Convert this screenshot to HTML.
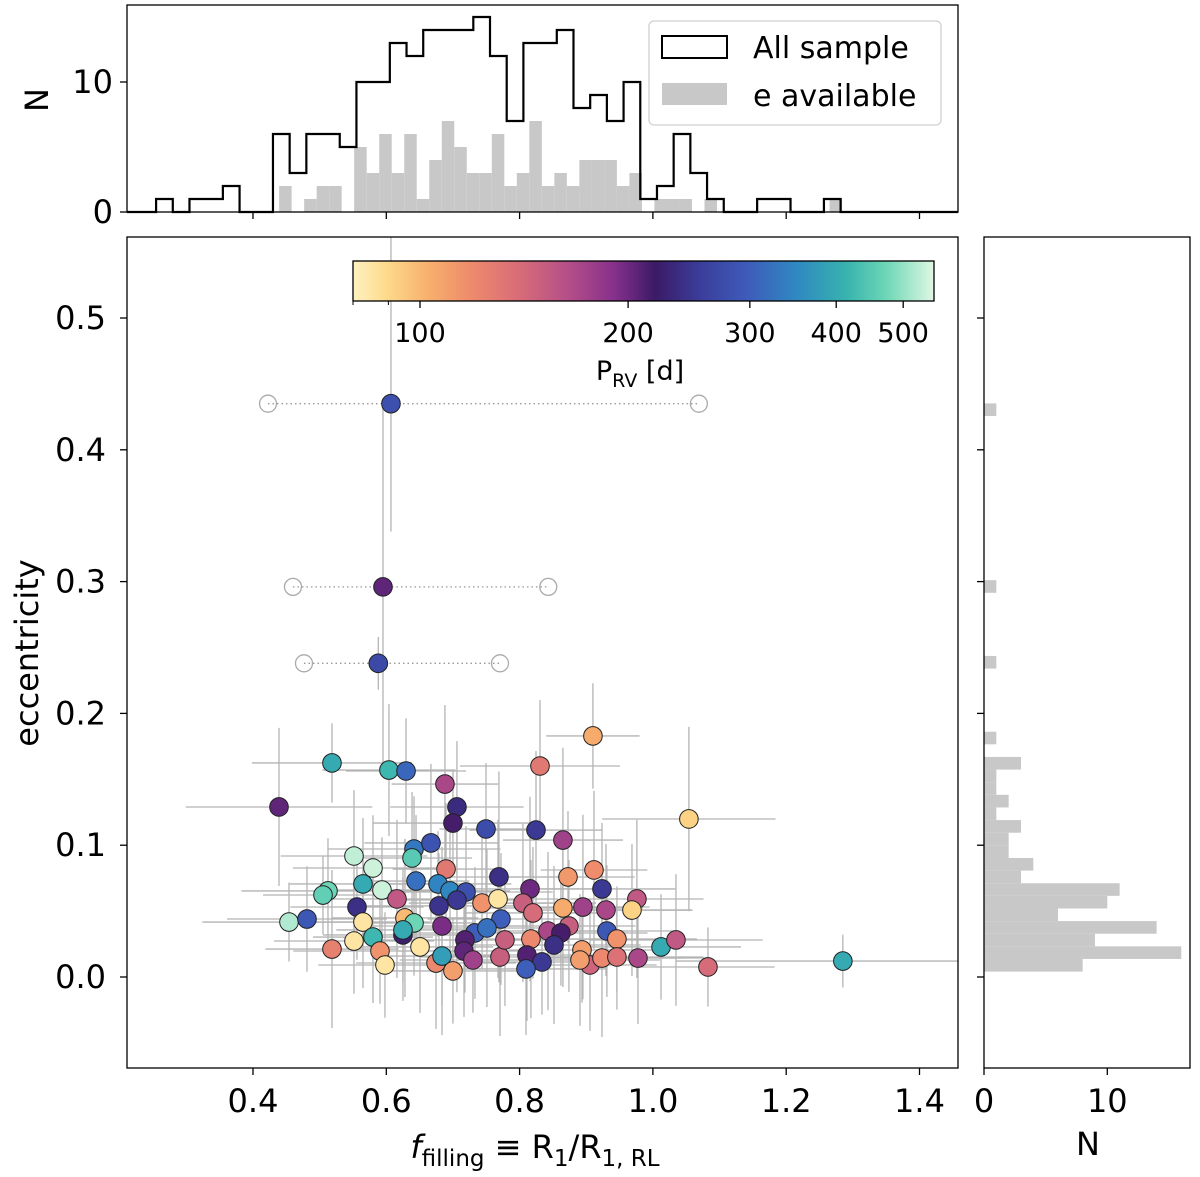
<!DOCTYPE html>
<html><head><meta charset="utf-8">
<style>
html,body{margin:0;padding:0;background:#fff;}
svg text{font-family:"DejaVu Sans","Liberation Sans",sans-serif;fill:#000;}
</style></head>
<body>
<svg id="fig" width="1200" height="1172" viewBox="0 0 1200 1172" xmlns="http://www.w3.org/2000/svg">
<defs>
<linearGradient id="cmapgrad" x1="0" x2="1" y1="0" y2="0">
<stop offset="0" stop-color="#fff2c0"/>
<stop offset="0.06" stop-color="#fdd98a"/>
<stop offset="0.13" stop-color="#f7b06d"/>
<stop offset="0.2" stop-color="#ee8c6c"/>
<stop offset="0.28" stop-color="#da6e77"/>
<stop offset="0.37" stop-color="#b44f88"/>
<stop offset="0.45" stop-color="#86308c"/>
<stop offset="0.52" stop-color="#3b1a66"/>
<stop offset="0.6" stop-color="#3b3e9c"/>
<stop offset="0.68" stop-color="#3e5cba"/>
<stop offset="0.76" stop-color="#2f87c2"/>
<stop offset="0.85" stop-color="#38b3ae"/>
<stop offset="0.92" stop-color="#6fd8b6"/>
<stop offset="1" stop-color="#e0f7e4"/>
</linearGradient>
<clipPath id="mainclip"><rect x="127" y="237" width="831" height="831"/></clipPath>
</defs>
<g id="layer"></g>
</svg>
<script>
// ---- data ----
const topAllStart = 0.2546, topAllWidth = 0.02505;
const topAllCounts = [1,0,1,1,2,0,0,6,3,6,6,5,10,10,13,12,14,14,14,15,12,7,13,13,14,8,9,7,10,1,2,6,3,1,0,0,1,1,0,0,1];
const topEStart = 0.4392, topEWidth = 0.01877;
const topECounts = [2,0,1,2,2,0,5,3,6,3,6,1,4,7,5,3,3,6,2,3,7,2,3,2,4,4,4,2,3,0,1,1,1,0,1,0,0,0,0,0,0,0,0,0,1];
const rightStart = 0.0041, rightWidth = 0.00958;
const rightCounts = [8,16,9,14,6,10,11,3,4,2,2,3,1,2,1,1,3,0,1,0,0,0,0,0,1,0,0,0,0,0,1,0,0,0,0,0,0,0,0,0,0,0,0,0,1];
const fill = [0.5185,0.604,0.6296,0.688,0.706,0.700,0.7496,0.439,0.5515,0.6416,0.6386,0.667,0.580,0.6896,0.769,0.5125,0.505,0.565,0.5935,0.616,0.6446,0.6776,0.6956,0.7196,0.706,0.679,0.7436,0.7676,0.556,0.454,0.481,0.565,0.628,0.6416,0.625,0.625,0.6836,0.772,0.5515,0.580,0.5185,0.5905,0.6506,0.598,0.6746,0.6836,0.700,0.733,0.751,0.718,0.7166,0.730,0.7706,0.778,0.910,0.8306,1.054,0.8246,0.865,0.8726,0.9116,0.8156,0.9236,0.976,0.9686,0.865,0.895,0.9296,0.805,0.820,0.8426,0.874,0.862,0.817,0.931,0.946,0.8516,0.811,0.8336,0.8096,0.8936,0.9056,0.9236,0.946,0.9776,1.0122,1.0346,1.0826,0.8906,1.285];
const ecc = [0.1624,0.157,0.1563,0.1464,0.129,0.1168,0.1123,0.129,0.0918,0.0971,0.0903,0.1017,0.0827,0.0819,0.0759,0.0653,0.0622,0.0706,0.066,0.0592,0.0728,0.0706,0.0653,0.0645,0.0584,0.0539,0.0561,0.0592,0.0531,0.0417,0.044,0.0417,0.0448,0.041,0.0319,0.0357,0.0387,0.044,0.0273,0.0303,0.0212,0.0197,0.0228,0.0091,0.0106,0.0159,0.0046,0.0334,0.0372,0.0281,0.0197,0.0129,0.0152,0.0281,0.1829,0.1601,0.1199,0.1115,0.1039,0.0759,0.0812,0.0668,0.0668,0.0592,0.0508,0.0524,0.0531,0.0508,0.0561,0.0486,0.0349,0.0387,0.0334,0.0288,0.0349,0.0288,0.0243,0.0167,0.0114,0.0061,0.0205,0.0091,0.0144,0.0152,0.0144,0.0228,0.0281,0.0076,0.0129,0.0121];
const period = [400,420,310,170,235,215,275,205,530,330,450,285,540,130,240,470,460,400,540,155,320,345,350,280,250,245,115,85,240,520,290,85,100,470,225,400,195,300,85,420,125,115,85,85,120,380,110,300,320,210,205,175,150,150,105,130,92,250,175,112,118,200,250,155,92,105,175,170,150,140,170,150,215,120,290,115,240,210,250,300,110,145,120,135,170,400,155,140,110,400];
const xerr = [0.12,0.1,0.09,0.08,0.1,0.12,0.07,0.14,0.11,0.13,0.09,0.1,0.12,0.08,0.1,0.13,0.09,0.11,0.1,0.12,0.08,0.11,0.09,0.13,0.1,0.12,0.11,0.09,0.1,0.13,0.12,0.1,0.11,0.09,0.12,0.1,0.13,0.11,0.12,0.09,0.1,0.13,0.11,0.1,0.12,0.09,0.11,0.1,0.12,0.13,0.1,0.11,0.12,0.09,0.07,0.12,0.13,0.1,0.09,0.1,0.08,0.12,0.11,0.1,0.09,0.12,0.1,0.13,0.11,0.1,0.12,0.1,0.13,0.11,0.1,0.12,0.13,0.11,0.1,0.12,0.11,0.1,0.12,0.13,0.1,0.12,0.13,0.1,0.12,0.25];
const yerr = [0.03,0.05,0.04,0.06,0.05,0.04,0.05,0.06,0.05,0.04,0.05,0.06,0.04,0.05,0.08,0.04,0.03,0.05,0.04,0.06,0.05,0.04,0.06,0.05,0.07,0.04,0.05,0.06,0.04,0.03,0.04,0.05,0.06,0.04,0.05,0.04,0.06,0.05,0.04,0.05,0.06,0.04,0.05,0.04,0.05,0.06,0.04,0.05,0.06,0.04,0.05,0.04,0.06,0.05,0.04,0.05,0.07,0.06,0.07,0.05,0.06,0.07,0.05,0.06,0.05,0.06,0.07,0.05,0.06,0.05,0.06,0.05,0.04,0.06,0.05,0.04,0.06,0.05,0.04,0.05,0.04,0.05,0.06,0.04,0.05,0.04,0.05,0.03,0.05,0.02];
const specFill = [0.607,0.595,0.588];
const specEcc = [0.435,0.296,0.238];
const specPeriod = [280,205,270];
const specLo = [0.4225,0.460,0.4765];
const specHi = [1.069,0.843,0.7706];
const specErrTop = [0.6,0.435,0.258];
const specErrBot = [0.338,0.16,0.218];
const mainXTicks = [0.4,0.6,0.8,1.0,1.2,1.4];
const mainXTickLabels = ["0.4","0.6","0.8","1.0","1.2","1.4"];
const mainYTicks = [0.0,0.1,0.2,0.3,0.4,0.5];
const mainYTickLabels = ["0.0","0.1","0.2","0.3","0.4","0.5"];
const cbTicks = [100,200,300,400,500];
const cbMinor = [80,90];
// ---- scales ----
const X = v => 253 + (v-0.4)*666.5;
const Y = v => 977 - v*1318;
const YT = n => 212 - n*13;
const XR = n => 984 + n*12.33;
const PMIN = 80, PMAX = 554;
const CB = p => 353 + (Math.log(p/PMIN)/Math.log(PMAX/PMIN))*581;
const stops = [[0,"#fff2c0"],[0.06,"#fdd98a"],[0.13,"#f7b06d"],[0.2,"#ee8c6c"],[0.28,"#da6e77"],[0.37,"#b44f88"],[0.45,"#86308c"],[0.52,"#3b1a66"],[0.6,"#3b3e9c"],[0.68,"#3e5cba"],[0.76,"#2f87c2"],[0.85,"#38b3ae"],[0.92,"#6fd8b6"],[1,"#e0f7e4"]];
function hex(c){return [parseInt(c.slice(1,3),16),parseInt(c.slice(3,5),16),parseInt(c.slice(5,7),16)];}
function cmap(p){
  let t=Math.log(p/PMIN)/Math.log(PMAX/PMIN); t=Math.max(0,Math.min(1,t));
  for(let i=0;i<stops.length-1;i++){
    if(t<=stops[i+1][0]){const a=hex(stops[i][1]),b=hex(stops[i+1][1]);const f=(t-stops[i][0])/(stops[i+1][0]-stops[i][0]);
      return "rgb("+a.map((v,k)=>Math.round(v+(b[k]-v)*f)).join(",")+")";}
  }
  return stops[stops.length-1][1];
}
const NS="http://www.w3.org/2000/svg";
const root=document.getElementById('layer');
function mk(tag,attrs,parent){const e=document.createElementNS(NS,tag);for(const k in attrs)e.setAttribute(k,attrs[k]);(parent||root).appendChild(e);return e;}
function txt(s,x,y,size,anchor,parent){const e=mk('text',{x:x,y:y,'font-size':size,'text-anchor':anchor||'middle'},parent);e.textContent=s;return e;}

// ---- top histogram ----
const gTop=mk('g',{});


topECounts.forEach((c,i)=>{ if(!c) return;
  const x0=X(topEStart+i*topEWidth), x1=X(topEStart+(i+1)*topEWidth);
  const r=mk('rect',{x:x0,y:YT(c),width:x1-x0,height:YT(0)-YT(c),fill:'#c8c8c8'},gTop);
  
  
});
let d="M127,"+YT(0)+" L"+X(topAllStart)+","+YT(0);
topAllCounts.forEach((c,i)=>{const x0=X(topAllStart+i*topAllWidth),x1=X(topAllStart+(i+1)*topAllWidth);d+=" L"+x0+","+YT(c)+" L"+x1+","+YT(c);});
d+=" L"+X(topAllStart+topAllCounts.length*topAllWidth)+","+YT(0)+" L958,"+YT(0);
const stepP=mk('path',{d:d,fill:'none',stroke:'#000','stroke-width':2.2},gTop);


mk('rect',{x:127,y:5,width:831,height:207,fill:'none',stroke:'#000','stroke-width':1.3},gTop);
[0,10].forEach(n=>{mk('line',{x1:120,x2:127,y1:YT(n),y2:YT(n),stroke:'#000','stroke-width':1.3},gTop);txt(String(n),113,YT(n)+11,32,'end',gTop);});
mainXTicks.forEach(v=>mk('line',{x1:X(v),x2:X(v),y1:212,y2:219,stroke:'#000','stroke-width':1.3},gTop));
const nTop=txt('N',0,0,32,'middle',gTop);nTop.setAttribute('transform','translate(48,100) rotate(-90)');

// legend
const leg=mk('g',{});


mk('rect',{x:649,y:21,width:292,height:104,rx:5,fill:'#fff','fill-opacity':0.85,stroke:'#d0d0d0','stroke-width':1.3},leg);
mk('rect',{x:662,y:36,width:65,height:22,fill:'none',stroke:'#000','stroke-width':2},leg);
txt('All sample',753,58,30,'start',leg);
mk('rect',{x:662,y:83,width:65,height:22,fill:'#c8c8c8'},leg);
txt('e available',753,106,30,'start',leg);

// ---- main panel ----
const gMain=mk('g',{'clip-path':'url(#mainclip)'});


fill.forEach((v,i)=>{
  mk('line',{x1:X(v-xerr[i]),x2:X(v+xerr[i]),y1:Y(ecc[i]),y2:Y(ecc[i]),stroke:'#b4b4b4','stroke-width':1.3},gMain);
  mk('line',{x1:X(v),x2:X(v),y1:Y(ecc[i]-yerr[i]),y2:Y(ecc[i]+yerr[i]),stroke:'#b4b4b4','stroke-width':1.3},gMain);
});
specFill.forEach((v,i)=>{
  mk('line',{x1:X(v),x2:X(v),y1:Y(specErrTop[i]),y2:Y(specErrBot[i]),stroke:'#b4b4b4','stroke-width':1.3},gMain);
  mk('line',{x1:X(specLo[i]),x2:X(specHi[i]),y1:Y(specEcc[i]),y2:Y(specEcc[i]),stroke:'#999','stroke-width':1.3,'stroke-dasharray':'1.5,3'},gMain);
  [specLo[i],specHi[i]].forEach(r=>{const c=mk('circle',{cx:X(r),cy:Y(specEcc[i]),r:8.5,fill:'none',stroke:'#aaa','stroke-width':1.3},gMain);
    });
});
fill.forEach((v,i)=>{
  const c=mk('circle',{cx:X(v),cy:Y(ecc[i]),r:9.3,fill:cmap(period[i]),stroke:'#222','stroke-width':1},gMain);
  
  
});
specFill.forEach((v,i)=>{
  const c=mk('circle',{cx:X(v),cy:Y(specEcc[i]),r:9.3,fill:cmap(specPeriod[i]),stroke:'#222','stroke-width':1},gMain);
  
  
});
// colorbar
const cb=mk('g',{});


mk('rect',{x:353,y:261,width:581,height:40,fill:'url(#cmapgrad)',stroke:'#000','stroke-width':1.3},cb);
cbTicks.forEach((p,i)=>{mk('line',{x1:CB(p),x2:CB(p),y1:301,y2:308,stroke:'#000','stroke-width':1.3},cb);txt(String(p),CB(p),342,27,'middle',cb);});
cbMinor.forEach(p=>mk('line',{x1:CB(p),x2:CB(p),y1:301,y2:305,stroke:'#000','stroke-width':1},cb));
const cbl=mk('text',{x:640,y:380,'font-size':27,'text-anchor':'middle'},cb);
cbl.innerHTML='P<tspan font-size="19" dy="7">RV</tspan><tspan dy="-7"> [d]</tspan>';

// main axes
mk('rect',{x:127,y:237,width:831,height:831,fill:'none',stroke:'#000','stroke-width':1.3});
const xax=mk('g',{});
mainXTicks.forEach((v,i)=>{mk('line',{x1:X(v),x2:X(v),y1:1068,y2:1075,stroke:'#000','stroke-width':1.3},xax);txt(mainXTickLabels[i],X(v),1112,32,'middle',xax);});
const yax=mk('g',{});
mainYTicks.forEach((v,i)=>{mk('line',{x1:120,x2:127,y1:Y(v),y2:Y(v),stroke:'#000','stroke-width':1.3},yax);txt(mainYTickLabels[i],106,Y(v)+11,32,'end',yax);});
const xl=mk('text',{x:535,y:1158,'font-size':32,'text-anchor':'middle'});
xl.innerHTML='<tspan font-style="italic">f</tspan><tspan font-size="23" dy="8">filling</tspan><tspan dy="-8"> ≡ R</tspan><tspan font-size="23" dy="8">1</tspan><tspan dy="-8">/R</tspan><tspan font-size="23" dy="8">1, RL</tspan>';

const yl=txt('eccentricity',0,0,32,'middle');yl.setAttribute('transform','translate(38,653) rotate(-90)');


// ---- right histogram ----
const gR=mk('g',{});


rightCounts.forEach((c,i)=>{ if(!c) return;
  const y1=Y(rightStart+i*rightWidth), y0=Y(rightStart+(i+1)*rightWidth);
  const r=mk('rect',{x:984,y:y0,width:XR(c)-984,height:y1-y0,fill:'#c8c8c8'},gR);
  
  
});
mk('rect',{x:984,y:237,width:206,height:831,fill:'none',stroke:'#000','stroke-width':1.3},gR);
mainYTicks.forEach(v=>mk('line',{x1:977,x2:984,y1:Y(v),y2:Y(v),stroke:'#000','stroke-width':1.3},gR));
[0,10].forEach(n=>{mk('line',{x1:XR(n),x2:XR(n),y1:1068,y2:1075,stroke:'#000','stroke-width':1.3},gR);txt(String(n),XR(n),1112,32,'middle',gR);});
const nR=txt('N',1088,1155,32,'middle',gR);
</script>
</body></html>
